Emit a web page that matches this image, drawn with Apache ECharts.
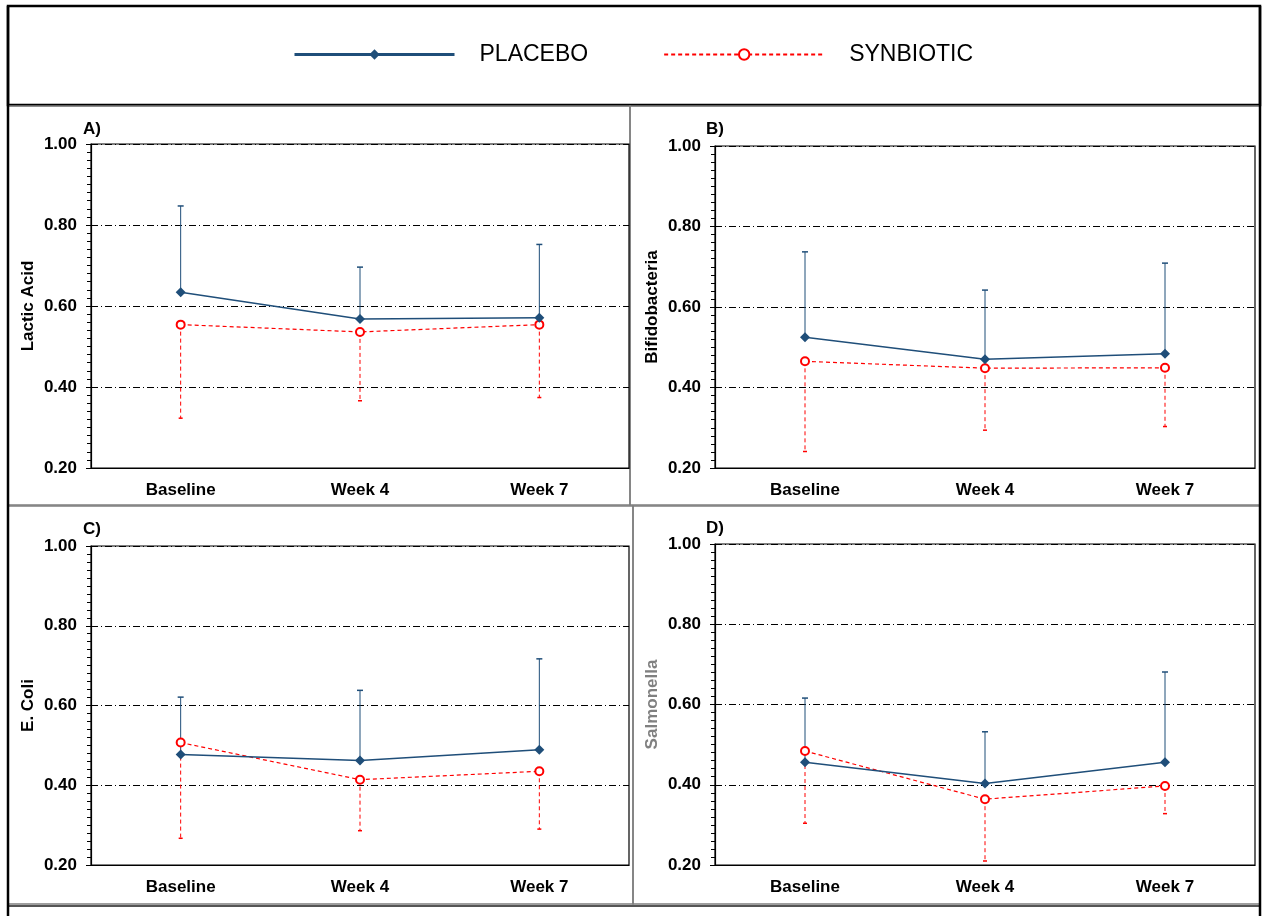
<!DOCTYPE html>
<html>
<head>
<meta charset="utf-8">
<script src="https://cdn.jsdelivr.net/npm/echarts@6/dist/echarts.min.js"></script>
<style>
html,body{margin:0;padding:0;background:#fff;}
#main{width:1264px;height:916px;}
</style>
</head>
<body>
<div id="main"></div>
<script>
const categories = ['Baseline', 'Week 4', 'Week 7'];
const seriesNames = ['PLACEBO', 'SYNBIOTIC'];
const panelLabels = ['A)', 'B)', 'C)', 'D)'];
const yTitles = ['Lactic Acid', 'Bifidobacteria', 'E. Coli', 'Salmonella'];

// Panel A: Lactic Acid
const lacticPlacebo = [0.634, 0.568, 0.571];
const lacticPlaceboUpper = [0.847, 0.696, 0.752];
const lacticSynbiotic = [0.554, 0.536, 0.554];
const lacticSynbioticLower = [0.323, 0.366, 0.374];
// Panel B: Bifidobacteria
const bifidoPlacebo = [0.525, 0.470, 0.484];
const bifidoPlaceboUpper = [0.737, 0.642, 0.709];
const bifidoSynbiotic = [0.465, 0.448, 0.449];
const bifidoSynbioticLower = [0.241, 0.294, 0.303];
// Panel C: E. Coli
const ecoliPlacebo = [0.477, 0.462, 0.489];
const ecoliPlaceboUpper = [0.621, 0.638, 0.717];
const ecoliSynbiotic = [0.507, 0.414, 0.435];
const ecoliSynbioticLower = [0.267, 0.286, 0.290];
// Panel D: Salmonella
const salmPlacebo = [0.456, 0.403, 0.456];
const salmPlaceboUpper = [0.616, 0.532, 0.681];
const salmSynbiotic = [0.484, 0.364, 0.397];
const salmSynbioticLower = [0.304, 0.210, 0.328];

const yMin = 0.2, yMax = 1.0, yInterval = 0.2;

const panelData = [
  [lacticPlacebo, lacticPlaceboUpper, lacticSynbiotic, lacticSynbioticLower],
  [bifidoPlacebo, bifidoPlaceboUpper, bifidoSynbiotic, bifidoSynbioticLower],
  [ecoliPlacebo, ecoliPlaceboUpper, ecoliSynbiotic, ecoliSynbioticLower],
  [salmPlacebo, salmPlaceboUpper, salmSynbiotic, salmSynbioticLower]
];

const BLUE = '#1F4E79';
const RED = '#FF0000';
const FONT = '"Liberation Sans", Arial, sans-serif';

// layout
const grids = [
  {left: 91, top: 144, width: 538, height: 324},
  {left: 715, top: 146, width: 540, height: 322},
  {left: 91, top: 546, width: 538, height: 319},
  {left: 715, top: 544, width: 540, height: 321}
];
const labelPos = [[83, 129], [706, 129], [83, 529], [706, 528]];
const yTitleColors = ['#000', '#000', '#000', '#808080'];

function errRender(color, dash, capW) {
  return function (params, api) {
    const x = api.value(0);
    const p0 = api.coord([x, api.value(1)]);
    const p1 = api.coord([x, api.value(2)]);
    return {
      type: 'group',
      children: [
        {type: 'line', shape: {x1: p0[0], y1: p0[1], x2: p1[0], y2: p1[1]},
         style: {stroke: color, lineWidth: 1, lineDash: dash}},
        {type: 'line', shape: {x1: p1[0] - capW, y1: p1[1], x2: p1[0] + capW, y2: p1[1]},
         style: {stroke: color, lineWidth: 1.5}}
      ]
    };
  };
}

const xAxes = [], yAxes = [], series = [], gridOpts = [];
grids.forEach((g, i) => {
  gridOpts.push(Object.assign({show: true, borderColor: '#000', borderWidth: 1.2, backgroundColor: '#fff'}, g));
  xAxes.push({
    type: 'category', gridIndex: i, data: categories, boundaryGap: true,
    axisLine: {lineStyle: {color: '#000', width: 1.2}},
    axisTick: {show: false},
    axisLabel: {color: '#000', fontFamily: FONT, fontWeight: 'bold', fontSize: 17, margin: 14},
    splitLine: {show: false}
  });
  yAxes.push({
    type: 'value', gridIndex: i, min: yMin, max: yMax, interval: yInterval,
    name: yTitles[i], nameLocation: 'middle', nameGap: 54, nameRotate: 90,
    nameTextStyle: {color: yTitleColors[i], fontFamily: FONT, fontWeight: 'bold', fontSize: 17},
    axisLine: {show: true, lineStyle: {color: '#000', width: 1.2}},
    axisTick: {show: true, length: 5, lineStyle: {color: '#000'}},
    minorTick: {show: true, splitNumber: 10, length: 4, lineStyle: {color: '#000'}},
    axisLabel: {color: '#000', fontFamily: FONT, fontWeight: 'bold', fontSize: 17, margin: 14,
      formatter: v => v.toFixed(2)},
    splitLine: {show: true, lineStyle: {color: '#000', width: 1, type: [7, 3, 1, 3]}}
  });
  const d = panelData[i];
  series.push({
    type: 'custom', name: 'PLACEBO error', xAxisIndex: i, yAxisIndex: i, z: 2,
    renderItem: errRender(BLUE, null, 3),
    encode: {x: 0, y: [1, 2]},
    data: categories.map((c, j) => [j, d[0][j], d[1][j]])
  });
  series.push({
    type: 'custom', name: 'SYNBIOTIC error', xAxisIndex: i, yAxisIndex: i, z: 2,
    renderItem: errRender(RED, [4, 3], 2),
    encode: {x: 0, y: [1, 2]},
    data: categories.map((c, j) => [j, d[2][j], d[3][j]])
  });
  series.push({
    type: 'line', name: seriesNames[0], xAxisIndex: i, yAxisIndex: i, z: 4,
    data: d[0], symbol: 'diamond', symbolSize: 10,
    itemStyle: {color: BLUE}, lineStyle: {color: BLUE, width: 1.5}
  });
  series.push({
    type: 'line', name: seriesNames[1], xAxisIndex: i, yAxisIndex: i, z: 3,
    data: d[2], symbol: 'emptyCircle', symbolSize: 8,
    itemStyle: {color: RED, borderWidth: 1.2}, lineStyle: {color: RED, width: 1.2, type: [4, 3]}
  });
});

const graphic = [
  // legend box
  {type: 'rect', shape: {x: 8, y: 6, width: 1252, height: 99}, style: {fill: 'none', stroke: '#000', lineWidth: 2.5}, z: -1},
  // panels
  {type: 'rect', shape: {x: 8, y: 106, width: 622, height: 399}, style: {fill: 'none', stroke: '#7f7f7f', lineWidth: 1.5}, z: -1},
  {type: 'rect', shape: {x: 630, y: 106, width: 630, height: 399}, style: {fill: 'none', stroke: '#7f7f7f', lineWidth: 1.5}, z: -1},
  {type: 'rect', shape: {x: 8, y: 506, width: 625, height: 398}, style: {fill: 'none', stroke: '#7f7f7f', lineWidth: 1.5}, z: -1},
  {type: 'rect', shape: {x: 633, y: 506, width: 627, height: 398}, style: {fill: 'none', stroke: '#7f7f7f', lineWidth: 1.5}, z: -1},
  {type: 'line', shape: {x1: 8, y1: 906, x2: 1260, y2: 906}, style: {stroke: '#555', lineWidth: 2}, z: -1},
  // outer thick sides
  {type: 'line', shape: {x1: 8, y1: 6, x2: 8, y2: 916}, style: {stroke: '#000', lineWidth: 2.5}, z: 5},
  {type: 'line', shape: {x1: 1260, y1: 6, x2: 1260, y2: 916}, style: {stroke: '#000', lineWidth: 2.5}, z: 5}
];
panelLabels.forEach((t, i) => {
  graphic.push({type: 'text', x: labelPos[i][0], y: labelPos[i][1],
    style: {text: t, fill: '#000', font: 'bold 17px "Liberation Sans", Arial, sans-serif', verticalAlign: 'middle'}});
});

const chart = echarts.init(document.getElementById('main'), null, {renderer: 'canvas'});
chart.setOption({
  animation: false,
  backgroundColor: '#fff',
  legend: {
    left: 293, top: 43, padding: 0,
    itemWidth: 160, itemHeight: 13, itemGap: 75,
    data: [
      {name: 'PLACEBO', lineStyle: {width: 3}},
      {name: 'SYNBIOTIC', lineStyle: {width: 2}}
    ],
    textStyle: {color: '#000', fontFamily: FONT, fontSize: 23, padding: [0, 0, 0, 20]}
  },
  grid: gridOpts,
  xAxis: xAxes,
  yAxis: yAxes,
  series: series,
  graphic: graphic
});
</script>
</body>
</html>
